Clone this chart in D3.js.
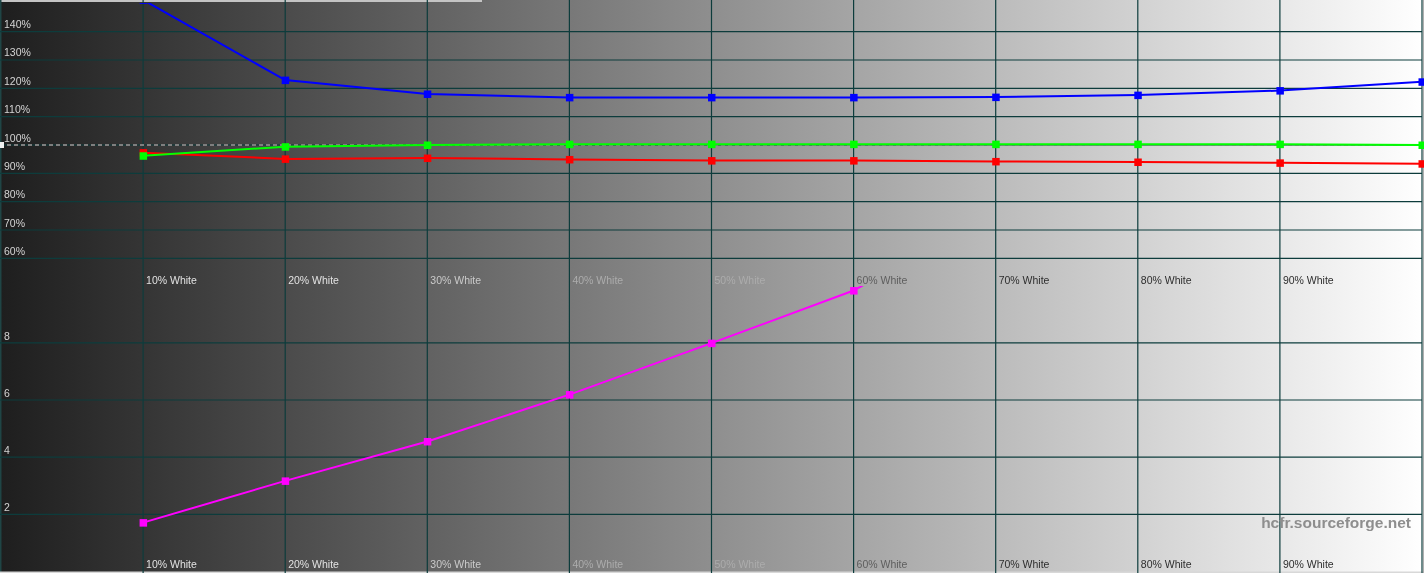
<!DOCTYPE html>
<html>
<head>
<meta charset="utf-8">
<script src="https://cdn.jsdelivr.net/npm/d3@7"></script>
<style>
  body { margin: 0; background: #fff; }
  svg { display: block; font-family: "Liberation Sans", Arial, sans-serif; }
</style>
</head>
<body>
<script>
// grey levels of the measured patches
const levels = [10, 20, 30, 40, 50, 60, 70, 80, 90, 100];
const labelLevels = [10, 20, 30, 40, 50, 60, 70, 80, 90];

// RGB levels, % of reference
const redLevels = [97.3, 95.1, 95.4, 94.9, 94.5, 94.5, 94.2, 94.0, 93.7, 93.4];
const greenLevels = [96.2, 99.4, 100.0, 100.3, 100.3, 100.3, 100.3, 100.3, 100.3, 100.0];
const blueLevels = [151.2, 122.9, 118.0, 116.8, 116.8, 116.8, 116.9, 117.6, 119.2, 122.3];

// delta E per patch (only the first ones were measured)
const deltaLevels = [10, 20, 30, 40, 50, 60, 70];
const deltaE = [1.71, 3.17, 4.55, 6.19, 7.99, 9.83, 12.6];

const rgbTicks = [60, 70, 80, 90, 100, 110, 120, 130, 140];
const deltaTicks = [2, 4, 6, 8];

const width = 1424;
const height = 573;
const mid = 286;

const x = d3.scaleLinear().domain([0, 100]).range([1, 1422]);
const yTop = d3.scaleLinear().domain([50, 150]).range([mid + 0.7, 3.3]);
const yBot = d3.scaleLinear().domain([0, 10]).range([571.5, mid - 0.3]);

const svg = d3
  .select("body")
  .append("svg")
  .attr("width", width)
  .attr("height", height)
  .attr("viewBox", [0, 0, width, height]);

const defs = svg.append("defs");
const grad = defs
  .append("linearGradient")
  .attr("id", "bg")
  .attr("x1", 0)
  .attr("x2", 1)
  .attr("y1", 0)
  .attr("y2", 0);
grad.append("stop").attr("offset", 0).attr("stop-color", "#1e1e1e");
grad.append("stop").attr("offset", 1).attr("stop-color", "#ffffff");

defs
  .append("clipPath")
  .attr("id", "clipTop")
  .append("rect")
  .attr("x", 0)
  .attr("y", 3)
  .attr("width", width)
  .attr("height", mid - 3);
defs
  .append("clipPath")
  .attr("id", "clipBot")
  .append("rect")
  .attr("x", 0)
  .attr("y", mid)
  .attr("width", width)
  .attr("height", height - mid);

svg
  .append("rect")
  .attr("width", width)
  .attr("height", height)
  .attr("fill", "url(#bg)");

// frame bits
svg.append("rect").attr("x", 0).attr("y", 0).attr("width", 482).attr("height", 2).attr("fill", "#c4c4c4");
svg.append("rect").attr("x", 0).attr("y", 0).attr("width", 1.5).attr("height", height).attr("fill", "#1f4545");
svg.append("rect").attr("x", 0).attr("y", height - 1.5).attr("width", width).attr("height", 1.5).attr("fill", "#d8d8d8");
svg.append("rect").attr("x", 1423).attr("y", 0).attr("width", 1).attr("height", height).attr("fill", "#b0b0b0");

const gridColor = "#0d3c3c";

// vertical grid
svg
  .append("g")
  .selectAll("line")
  .data(levels)
  .join("line")
  .attr("x1", (d) => x(d))
  .attr("x2", (d) => x(d))
  .attr("y1", 0)
  .attr("y2", height)
  .attr("stroke", gridColor)
  .attr("stroke-width", 1.2);

// horizontal grid, top chart
svg
  .append("g")
  .selectAll("line")
  .data(rgbTicks)
  .join("line")
  .attr("x1", 0)
  .attr("x2", x(100))
  .attr("y1", (d) => yTop(d))
  .attr("y2", (d) => yTop(d))
  .attr("stroke", gridColor)
  .attr("stroke-width", 1.2);

// horizontal grid, bottom chart
svg
  .append("g")
  .selectAll("line")
  .data(deltaTicks)
  .join("line")
  .attr("x1", 0)
  .attr("x2", x(100))
  .attr("y1", (d) => yBot(d))
  .attr("y2", (d) => yBot(d))
  .attr("stroke", gridColor)
  .attr("stroke-width", 1.2);

// y labels
svg
  .append("g")
  .attr("font-size", 10.5)
  .attr("fill", "#d4d4d4")
  .selectAll("text")
  .data(rgbTicks)
  .join("text")
  .attr("x", 4)
  .attr("y", (d) => yTop(d) - 3.5)
  .text((d) => d + "%");

svg
  .append("g")
  .attr("font-size", 10.5)
  .attr("fill", "#d4d4d4")
  .selectAll("text")
  .data(deltaTicks)
  .join("text")
  .attr("x", 4)
  .attr("y", (d) => yBot(d) - 3)
  .text((d) => d);

// x labels, under both charts
const labelColor = (d) =>
  d <= 20 ? "#e2e2e2" : d <= 30 ? "#cacaca" : d <= 50 ? "#acacac" : d <= 60 ? "#5e5e5e" : "#2e2e2e";
for (const base of [mid - 2, height - 5]) {
  svg
    .append("g")
    .attr("font-size", 10.5)
    .selectAll("text")
    .data(labelLevels)
    .join("text")
    .attr("x", (d) => x(d) + 3)
    .attr("y", base)
    .attr("fill", labelColor)
    .text((d) => d + "% White");
}

// 100% reference (inverts against the background)
svg
  .append("line")
  .attr("x1", 0)
  .attr("x2", x(100))
  .attr("y1", yTop(100))
  .attr("y2", yTop(100))
  .attr("stroke", "#ffffff")
  .attr("stroke-width", 1)
  .attr("stroke-dasharray", "4,3")
  .style("mix-blend-mode", "difference");
svg
  .append("rect")
  .attr("x", 0)
  .attr("y", yTop(100) - 3)
  .attr("width", 4)
  .attr("height", 6)
  .attr("fill", "#f0f0f0");

function series(values, xs, y, color, clip) {
  const pts = values.map((v, i) => [xs[i], v]);
  const g = svg.append("g").attr("clip-path", `url(#${clip})`);
  g.append("path")
    .datum(pts)
    .attr("fill", "none")
    .attr("stroke", color)
    .attr("stroke-width", 2)
    .attr("d", d3.line().x((d) => x(d[0])).y((d) => y(d[1])));
  g.selectAll("rect")
    .data(pts)
    .join("rect")
    .attr("x", (d) => x(d[0]) - 3.5)
    .attr("y", (d) => y(d[1]) - 3.5)
    .attr("width", 7.5)
    .attr("height", 7.5)
    .attr("fill", color);
}

series(redLevels, levels, yTop, "#ff0000", "clipTop");
series(greenLevels, levels, yTop, "#00ff00", "clipTop");
series(blueLevels, levels, yTop, "#0000ff", "clipTop");
series(deltaE, deltaLevels, yBot, "#ff00ff", "clipBot");

svg
  .append("text")
  .attr("x", 1411)
  .attr("y", 528)
  .attr("text-anchor", "end")
  .attr("font-size", 15.5)
  .attr("font-weight", "bold")
  .attr("fill", "#8e8e8e")
  .text("hcfr.sourceforge.net");
</script>
</body>
</html>
